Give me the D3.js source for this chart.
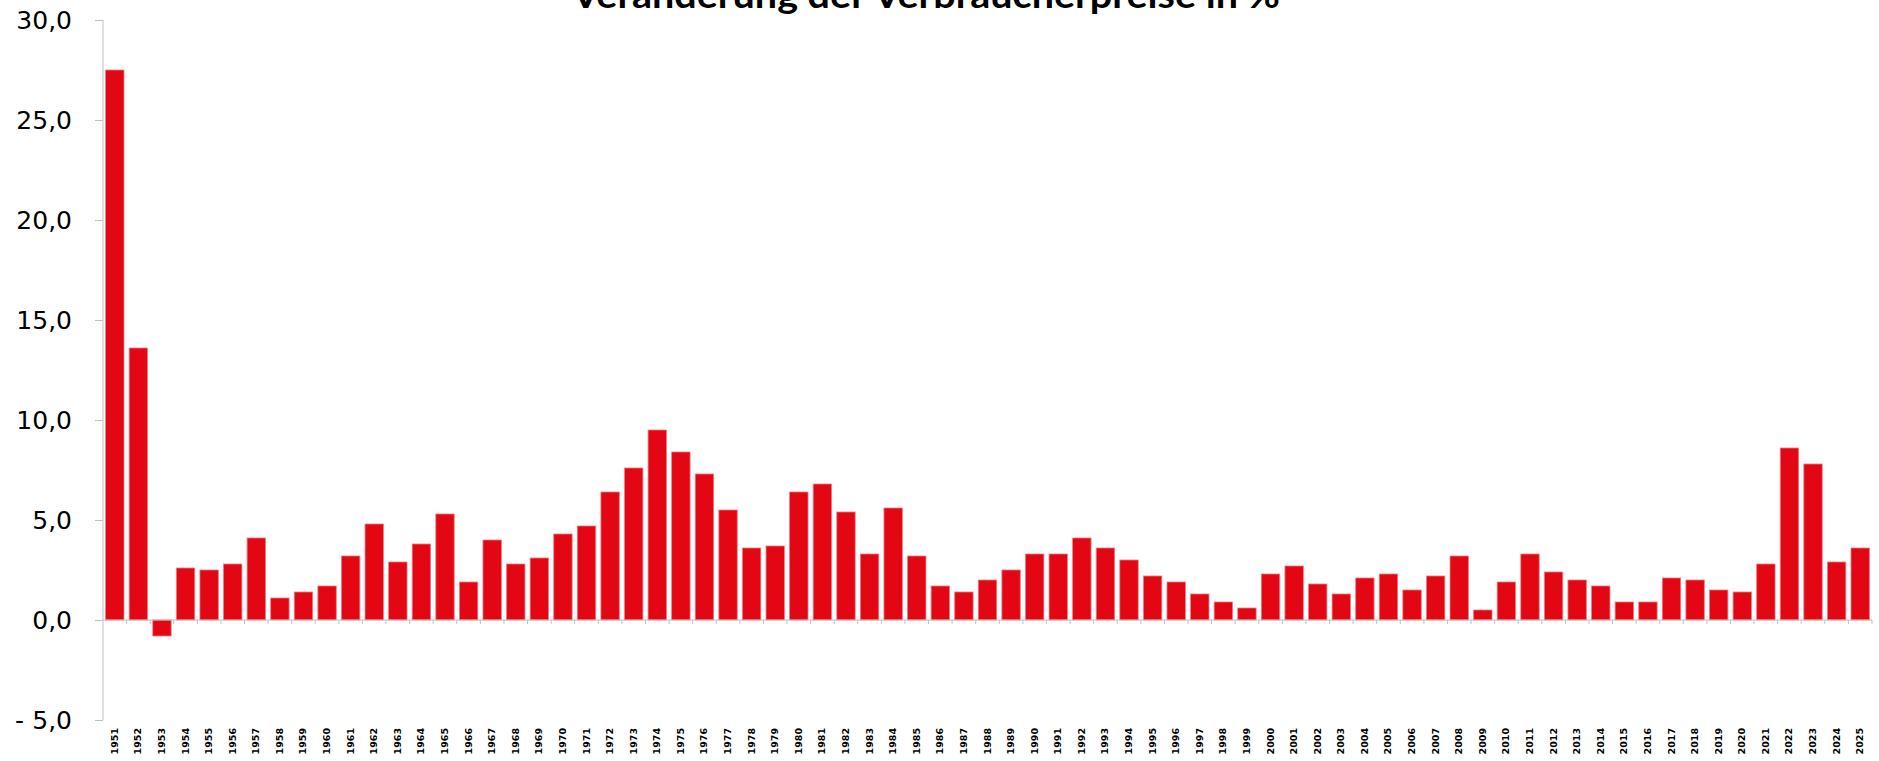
<!DOCTYPE html>
<html>
<head>
<meta charset="utf-8">
<script src="https://cdn.jsdelivr.net/npm/d3@7"></script>
<style>
  body { margin: 0; background: #fff; }
  .axis path, .axis line { stroke: #bfbfbf; }
  .axis--y text { font-family: "DejaVu Sans", sans-serif; font-size: 25px; fill: #000; }
  .axis--x text { font-family: "DejaVu Sans", sans-serif; font-weight: bold; font-size: 9.5px; fill: #000; }
</style>
</head>
<body>
<script>
/////////////////
/// DATA ///
/////////////////

// years 1951 - 2025
var years = ["1951","1952","1953","1954","1955","1956","1957","1958","1959","1960",
             "1961","1962","1963","1964","1965","1966","1967","1968","1969","1970",
             "1971","1972","1973","1974","1975","1976","1977","1978","1979","1980",
             "1981","1982","1983","1984","1985","1986","1987","1988","1989","1990",
             "1991","1992","1993","1994","1995","1996","1997","1998","1999","2000",
             "2001","2002","2003","2004","2005","2006","2007","2008","2009","2010",
             "2011","2012","2013","2014","2015","2016","2017","2018","2019","2020",
             "2021","2022","2023","2024","2025"];

// change of consumer prices in %
var inflation = [27.5, 13.6, -0.8, 2.6, 2.5, 2.8, 4.1, 1.1, 1.4, 1.7,
                 3.2, 4.8, 2.9, 3.8, 5.3, 1.9, 4.0, 2.8, 3.1, 4.3,
                 4.7, 6.4, 7.6, 9.5, 8.4, 7.3, 5.5, 3.6, 3.7, 6.4,
                 6.8, 5.4, 3.3, 5.6, 3.2, 1.7, 1.4, 2.0, 2.5, 3.3,
                 3.3, 4.1, 3.6, 3.0, 2.2, 1.9, 1.3, 0.9, 0.6, 2.3,
                 2.7, 1.8, 1.3, 2.1, 2.3, 1.5, 2.2, 3.2, 0.5, 1.9,
                 3.3, 2.4, 2.0, 1.7, 0.9, 0.9, 2.1, 2.0, 1.5, 1.4,
                 2.8, 8.6, 7.8, 2.9, 3.6];

// y axis ticks
var yTicks = [-5, 0, 5, 10, 15, 20, 25, 30];

var title = "Veränderung der Verbraucherpreise in %";

/////////////////
/// SETUP VIZ ///
/////////////////

var width = 1879, height = 761;

var svg = d3.select("body")
    .append("svg")
    .attr("width", width)
    .attr("height", height);

// scales
var xBar = d3.scaleBand().domain(years).range([103, 1872]).paddingInner(0.22).paddingOuter(0.11),
    yBar = d3.scaleLinear().domain([-5, 30]).range([720, 20]);

// title (cut off at the top, as in the source)
svg.append("text")
    .attr("x", 926)
    .attr("y", 8)
    .attr("text-anchor", "middle")
    .attr("textLength", 708)
    .attr("lengthAdjust", "spacingAndGlyphs")
    .style("font-family", "Lato, 'DejaVu Sans', sans-serif")
    .style("font-weight", "bold")
    .style("font-size", "36px")
    .text(title);

// y axis
var yAxisG = svg.append("g")
    .attr("class", "axis axis--y")
    .attr("transform", "translate(103,0)")
    .call(d3.axisLeft(yBar)
        .tickValues(yTicks)
        .tickSize(8)
        .tickPadding(23)
        .tickFormat(function(d) { return d3.format(".1f")(Math.abs(d)).replace(".", ","); }));

yAxisG.select(".domain").attr("d", "M0," + yBar(-5) + "V" + yBar(30));

// excel style minus sign on the left for negative ticks
yAxisG.selectAll(".tick")
    .filter(function(d) { return d < 0; })
    .append("text")
    .attr("x", -88)
    .attr("dy", "0.32em")
    .attr("text-anchor", "start")
    .text("-");

// x axis at zero
var xAxisG = svg.append("g")
    .attr("class", "axis axis--x")
    .attr("transform", "translate(0," + yBar(0) + ")");

xAxisG.append("line")
    .attr("x1", 103)
    .attr("x2", 1872)
    .attr("y1", 0)
    .attr("y2", 0);

// small ticks between categories
var gap = (xBar.step() - xBar.bandwidth()) / 2;
xAxisG.selectAll(".sep")
    .data(years)
    .enter()
    .append("line")
    .attr("class", "sep")
    .attr("x1", function(d) { return xBar(d) + xBar.bandwidth() + gap; })
    .attr("x2", function(d) { return xBar(d) + xBar.bandwidth() + gap; })
    .attr("y1", 0)
    .attr("y2", 4);

// year labels, rotated
svg.append("g")
    .attr("class", "axis axis--x")
    .selectAll("text")
    .data(years)
    .enter()
    .append("text")
    .attr("transform", function(d) {
        return "translate(" + (xBar(d) + xBar.bandwidth() / 2 + 3) + ",728) rotate(-90)";
    })
    .attr("text-anchor", "end")
    .text(function(d) { return d; });

// bars
svg.append("g")
    .selectAll(".bar")
    .data(inflation)
    .enter()
    .append("rect")
    .attr("class", "bar")
    .attr("x", function(d, i) { return xBar(years[i]); })
    .attr("y", function(d) { return yBar(Math.max(0, d)); })
    .attr("width", xBar.bandwidth())
    .attr("height", function(d) { return Math.abs(yBar(d) - yBar(0)); })
    .attr("fill", "#e30613")
    .attr("stroke", "#f07a82")
    .attr("stroke-width", 0.8);

// bring axis line in front of bar bottoms
xAxisG.raise();
</script>
</body>
</html>
